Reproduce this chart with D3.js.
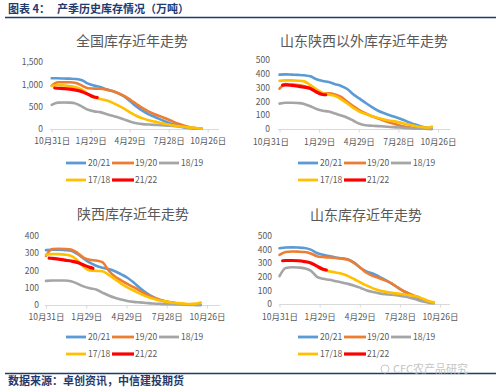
<!DOCTYPE html>
<html><head><meta charset="utf-8">
<script src="https://cdn.jsdelivr.net/npm/d3@7"></script>
<style>
html,body{margin:0;padding:0;background:#fff;}
svg{display:block;font-family:"Noto Sans CJK SC","Noto Sans",sans-serif;}
</style></head>
<body><svg id="c" width="500" height="392"></svg>
<script>
// ---------- data ----------
const seriesNames = ["20/21","19/20","18/19","17/18","21/22"];
const seriesColors = ["#5B9BD5","#ED7D31","#A5A5A5","#FFC000","#FF0000"];
const tickDays = [0, 90, 180, 270, 360];
const tickLabels = ["10月31日","1月29日","4月29日","7月28日","10月26日"];
// days after Oct 31 for each sample
const days = [0,14,28,42,56,70,84,98,112,126,140,154,168,182,196,210,224,238,252,266,280,294,308,322,336,346];
const redDays = [7,14,28,42,56,70,84,98,105];

const titles = ["全国库存近年走势","山东陕西以外库存近年走势","陕西库存近年走势","山东库存近年走势"];
const yTicks1 = [0,500,1000,1500];
const yTicks2 = [0,100,200,300,400,500];
const yTicks3 = [0,100,200,300,400];
const yTicks4 = [0,100,200,300,400,500];

// 全国
const nat2021 = [1135,1135,1130,1127,1120,1090,1015,971,941,889,851,799,724,613,501,404,329,270,210,150,105,60,31,16,8,4];
const nat1920 = [970,1045,1045,1045,1030,970,911,905,900,881,851,800,735,650,555,465,390,330,277,225,165,113,68,31,16,8];
const nat1819 = [538,590,592,590,568,501,430,395,378,335,295,258,210,165,130,110,100,92,85,76,68,54,38,23,10,5];
const nat1718 = [963,986,975,958,933,881,780,705,672,642,590,523,448,366,292,240,195,165,135,105,83,60,45,31,18,12];
const nat2122 = [918,912,905,893,870,835,775,718,705];
// 山东陕西以外
const oth2021 = [394,396,394,392,389,382,360,348,340,325,312,290,250,220,188,158,132,114,98,83,67,49,32,18,8,3];
const oth1920 = [292,325,322,318,310,295,270,258,258,250,232,198,165,135,112,92,75,60,45,32,20,12,6,3,2,1];
const oth1819 = [184,190,190,188,182,165,145,132,127,112,98,82,60,38,27,24,21,18,15,12,9,6,4,2,1,0];
const oth1718 = [350,352,352,350,345,318,288,262,250,240,215,185,152,125,108,93,80,68,60,53,42,32,22,14,10,17];
const oth2122 = [318,320,316,310,303,293,268,250,248];
// 陕西
const sx2021 = [318,320,320,318,315,296,270,245,228,216,208,196,178,158,130,98,70,48,32,22,14,8,4,2,1,0];
const sx1920 = [285,325,326,325,322,303,275,262,258,248,200,165,143,122,103,82,62,45,32,22,14,9,5,3,2,1];
const sx1819 = [140,142,142,142,138,124,108,97,90,72,55,42,32,23,18,15,12,9,7,5,4,3,2,1,1,0];
const sx1718 = [292,296,295,292,285,260,222,200,198,196,175,150,124,102,84,66,50,38,28,21,15,11,8,6,8,14];
const sx2122 = [272,270,266,260,255,247,232,218,213];
// 山东
const sd2021 = [410,415,416,415,412,400,375,362,352,342,336,328,302,265,238,222,200,176,150,118,92,70,50,32,15,10];
const sd1920 = [362,382,386,385,382,372,352,345,342,338,333,325,300,265,228,205,190,172,150,120,92,72,55,35,15,8];
const sd1819 = [205,265,270,268,262,245,200,185,178,168,158,148,135,118,100,88,78,72,68,62,55,45,32,18,8,5];
const sd1718 = [null,null,null,null,null,null,null,250,240,232,222,205,182,158,135,115,100,90,82,76,70,64,55,38,20,12];
const sd2122 = [318,320,320,318,312,302,278,255,250];

// ---------- layout ----------
const panels = [
  {title:titles[0], tx:132, ty:46, x0:51.7, x1:207.7, ax0:50, ax1:219, y0:129, y1:62, ymax:1500, yTicks:yTicks1, ylx:43, xly:144, firstDx:0, lx:66, ly:163,
   data:[nat2021,nat1920,nat1819,nat1718,nat2122]},
  {title:titles[1], tx:364, ty:46, x0:279.5, x1:438, ax0:278, ax1:450, y0:129, y1:60, ymax:500, yTicks:yTicks2, ylx:270, xly:145, firstDx:-9, lx:298, ly:163,
   data:[oth2021,oth1920,oth1819,oth1718,oth2122]},
  {title:titles[2], tx:133, ty:219, x0:46, x1:207, ax0:45, ax1:220, y0:305, y1:236, ymax:400, yTicks:yTicks3, ylx:39, xly:320, firstDx:0, lx:66, ly:337,
   data:[sx2021,sx1920,sx1819,sx1718,sx2122]},
  {title:titles[3], tx:366, ty:220, x0:279.5, x1:440, ax0:279, ax1:450, y0:304, y1:236, ymax:500, yTicks:yTicks4, ylx:272, xly:320, firstDx:0, lx:298, ly:337,
   data:[sd2021,sd1920,sd1819,sd1718,sd2122]}
];

const svg = d3.select("#c");

// header
svg.append("text").attr("x",8).attr("y",13).attr("font-size",11).attr("font-weight","bold")
  .attr("fill","#1F3A6E").text("图表 4：");
svg.append("text").attr("x",57).attr("y",13).attr("font-size",11).attr("font-weight","bold")
  .attr("fill","#1F3A6E").text("产季历史库存情况（万吨）");
svg.append("line").attr("x1",5).attr("x2",496).attr("y1",17.5).attr("y2",17.5)
  .attr("stroke","#1F3A6E").attr("stroke-width",1.5);

panels.forEach(p => {
  const g = svg.append("g");
  const x = d3.scaleLinear().domain([0,360]).range([p.x0,p.x1]);
  const y = d3.scaleLinear().domain([0,p.ymax]).range([p.y0,p.y1]);

  g.append("text").attr("x",p.tx).attr("y",p.ty).attr("text-anchor","middle")
    .attr("font-size",14).attr("fill","#595959").text(p.title);

  // x axis line
  g.append("line").attr("x1",p.ax0).attr("x2",p.ax1).attr("y1",y(0)+0.5).attr("y2",y(0)+0.5)
    .attr("stroke","#D9D9D9").attr("stroke-width",1);
  // x ticks
  const xa = d3.axisBottom(x).tickValues(tickDays).tickFormat((d,i)=>tickLabels[i]).tickSize(3).tickPadding(6);
  const xg = g.append("g").attr("transform",`translate(0,${y(0)+0.5})`).call(xa);
  xg.select(".domain").remove();
  xg.selectAll(".tick line").attr("stroke","#D9D9D9");
  xg.selectAll(".tick text").attr("font-size",8.5).attr("fill","#595959")
    .attr("font-family","'Noto Sans CJK SC',sans-serif")
    .attr("dx",(d,i)=> i===0 ? p.firstDx : 0);
  xg.selectAll(".tick text").attr("y", null).attr("dy",null)
    .attr("transform",null);
  xg.selectAll(".tick text").attr("y", p.xly - (y(0)+0.5)).attr("dy","0");

  // y axis labels
  const ya = d3.axisLeft(y).tickValues(p.yTicks).tickSize(0).tickPadding(0);
  const yg = g.append("g").attr("transform",`translate(${p.ylx},0)`).call(ya);
  yg.select(".domain").remove();
  yg.selectAll(".tick text").attr("font-size",8.5).attr("fill","#595959")
    .attr("font-family","'Noto Sans CJK SC',sans-serif");

  // lines
  p.data.forEach((vals,si) => {
    const dd = si===4 ? redDays : days;
    const pts = vals.map((v,i)=>({d:dd[i], v}));
    const line = d3.line().defined(q=>q.v!==null).x(q=>x(q.d)).y(q=>y(q.v)).curve(d3.curveMonotoneX);
    g.append("path").attr("d",line(pts)).attr("fill","none")
      .attr("stroke",seriesColors[si]).attr("stroke-width", si===4 ? 3.2 : 2.6)
      .attr("stroke-linejoin","round").attr("stroke-linecap","round");
  });

  // legend
  const offs = [[0,0],[46,0],[93,0],[0,17],[46,17]];
  seriesNames.forEach((n,si)=>{
    const lx = p.lx + offs[si][0], ly = p.ly + offs[si][1];
    g.append("line").attr("x1",lx).attr("x2",lx + (si===1||si===4 ? 22 : 20)).attr("y1",ly).attr("y2",ly)
      .attr("stroke",seriesColors[si]).attr("stroke-width", si===4 ? 3.2 : 2.8);
    g.append("text").attr("x",lx + (si===1||si===4 ? 23 : 22)).attr("y",ly).attr("dy","0.35em")
      .attr("font-size",8.5).attr("fill","#595959").text(n);
  });
});

// footer
svg.append("line").attr("x1",5).attr("x2",496).attr("y1",373.5).attr("y2",373.5)
  .attr("stroke","#1F3A6E").attr("stroke-width",1.5);
svg.append("text").attr("x",8).attr("y",385).attr("font-size",11).attr("font-weight","bold")
  .attr("fill","#1F3A6E").text("数据来源：卓创资讯，中信建投期货");
// watermark
svg.append("circle").attr("cx",385).attr("cy",369).attr("r",4).attr("fill","none").attr("stroke","#c8c8c8").attr("stroke-width",1);
svg.append("text").attr("x",393).attr("y",373).attr("font-size",11).attr("fill","#c0c0c0").attr("opacity",0.9).text("CFC农产品研究");
</script></body></html>
